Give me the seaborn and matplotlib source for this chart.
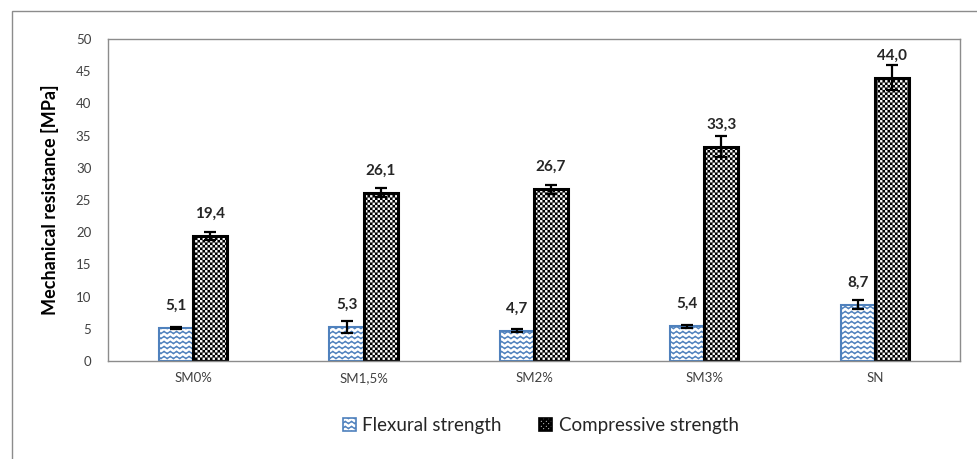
import numpy as np
import pandas as pd
import matplotlib
matplotlib.use("Agg")
import matplotlib.pyplot as plt
import matplotlib.hatch as mhatch
from matplotlib.path import Path
from matplotlib.patches import Rectangle
import seaborn as sns

# ---------------- data ----------------
categories = ["SM0%", "SM1,5%", "SM2%", "SM3%", "SN"]
series_names = ["Flexural strength", "Compressive strength"]
flexural = [5.1, 5.3, 4.7, 5.4, 8.7]
flexural_err = [0.2, 0.9, 0.25, 0.25, 0.7]
compressive = [19.4, 26.1, 26.7, 33.3, 44.0]
compressive_err = [0.6, 0.7, 0.7, 1.6, 1.9]
flex_labels = ["5,1", "5,3", "4,7", "5,4", "8,7"]
comp_labels = ["19,4", "26,1", "26,7", "33,3", "44,0"]
y_ticks = [0, 5, 10, 15, 20, 25, 30, 35, 40, 45, 50]


# ---------------- custom hatch patterns ----------------
class WaveHatch(mhatch.HatchPatternBase):
    """Wavy horizontal lines, triggered by '-'."""
    def __init__(self, hatch, density):
        n = hatch.count('-')
        self.active = n > 0
        self.rows = 20 if self.active else 0
        self.periods = 16
        self.pts = self.periods * 4 + 1
        self.num_vertices = self.rows * self.pts

    def set_vertices_and_codes(self, vertices, codes):
        amp = 0.012
        x = np.linspace(0.0, 1.0, self.pts)
        phase = np.arange(self.pts) % 4
        off = np.where(phase == 1, amp, np.where(phase == 3, -amp, 0.0))
        ys = (np.arange(self.rows) + 0.5) / self.rows
        for i, y0 in enumerate(ys):
            s = i * self.pts
            vertices[s:s + self.pts, 0] = x
            vertices[s:s + self.pts, 1] = y0 + off
            codes[s] = Path.MOVETO
            codes[s + 1:s + self.pts] = Path.LINETO


class CheckerHatch(mhatch.HatchPatternBase):
    """Fine checkerboard of filled squares, triggered by '*'."""
    def __init__(self, hatch, density):
        self.active = hatch.count('*') > 0
        self.n = 40
        self.squares = [(i, j) for i in range(self.n) for j in range(self.n)
                        if (i + j) % 2 == 0] if self.active else []
        self.num_vertices = len(self.squares) * 5

    def set_vertices_and_codes(self, vertices, codes):
        c = 1.0 / self.n
        for k, (i, j) in enumerate(self.squares):
            x0, y0 = i * c, j * c
            s = k * 5
            vertices[s:s + 5] = [[x0, y0], [x0 + c, y0], [x0 + c, y0 + c],
                                 [x0, y0 + c], [x0, y0]]
            codes[s] = Path.MOVETO
            codes[s + 1:s + 4] = Path.LINETO
            codes[s + 4] = Path.CLOSEPOLY


new_types = []
for t in mhatch._hatch_types:
    if t is mhatch.HorizontalHatch:
        new_types.append(WaveHatch)
    elif t is mhatch.Stars:
        new_types.append(CheckerHatch)
    else:
        new_types.append(t)
mhatch._hatch_types[:] = new_types

# ---------------- style ----------------
sns.set_theme(style="white")
plt.rcParams['font.family'] = ['Lato', 'DejaVu Sans']

df = pd.DataFrame({
    "category": categories * 2,
    "series": [series_names[0]] * 5 + [series_names[1]] * 5,
    "value": flexural + compressive,
})

fig = plt.figure(figsize=(9.78, 4.59), dpi=100)
ax = fig.add_axes([0.1104, 0.2135, 0.8712, 0.7015])

sns.barplot(data=df, x="category", y="value", hue="series",
            order=categories, hue_order=series_names,
            palette=["white", "white"], errorbar=None, width=0.4,
            gap=0, ax=ax, legend=False)


def set_hlw(p, w):
    try:
        p.set_hatch_linewidth(w)
    except Exception:
        p._hatch_linewidth = w


blue = "#4F81BD"
bars = list(ax.patches)
flex_bars = bars[:5]
comp_bars = bars[5:10]
for p in flex_bars:
    p.set_edgecolor(blue)
    p.set_linewidth(1.5)
    p.set_hatch('-')
    set_hlw(p, 1.0)
for p in comp_bars:
    p.set_edgecolor("black")
    p.set_linewidth(2.2)
    p.set_hatch('*')
    set_hlw(p, 0.1)

# error bars and data labels
for group, vals, errs, labs in [(flex_bars, flexural, flexural_err, flex_labels),
                                (comp_bars, compressive, compressive_err, comp_labels)]:
    xs = [p.get_x() + p.get_width() / 2 for p in group]
    ax.errorbar(xs, vals, yerr=errs, fmt='none', ecolor='black',
                elinewidth=1.6, capsize=4.5, capthick=1.6, zorder=5)
    for x, v, lab in zip(xs, vals, labs):
        ax.annotate(lab, (x, v), xytext=(0, 16), textcoords='offset points',
                    ha='center', va='center', fontsize=11,
                    fontweight='bold', color='#262626')

ax.set_ylim(0, 50)
ax.set_xlim(-0.5, 4.5)
ax.set_yticks(y_ticks)
ax.set_yticklabels([str(t) for t in y_ticks])
ax.tick_params(axis='y', length=0, pad=12, labelsize=9.5, labelcolor='#404040')
ax.tick_params(axis='x', length=0, pad=8, labelsize=9.5, labelcolor='#404040')
ax.set_xlabel("")
ax.set_ylabel("Mechanical resistance [MPa]", fontsize=13, fontweight='bold',
              color='black', labelpad=12)
for s in ax.spines.values():
    s.set_color('#8c8c8c')
    s.set_linewidth(1.0)

# legend
handles = [Rectangle((0, 0), 1, 1, facecolor='white', edgecolor=blue,
                     hatch='-', linewidth=1.2),
           Rectangle((0, 0), 1, 1, facecolor='white', edgecolor='black',
                     hatch='*', linewidth=1.2)]
for h in handles:
    set_hlw(h, 0.5)
leg = fig.legend(handles, series_names, loc='center', bbox_to_anchor=(0.553, 0.073),
                 ncol=2, frameon=False, fontsize=13.5, handlelength=0.7,
                 handleheight=0.7, handletextpad=0.35, columnspacing=2.0)

# outer chart-area frame
frame = Rectangle((12 / 978, -0.1), 1.2, 1 - 11 / 459 + 0.1,
                  transform=fig.transFigure, fill=False,
                  edgecolor='#8c8c8c', linewidth=1.0, zorder=-1)
fig.patches.append(frame)

fig.savefig("out.png", dpi=100)
